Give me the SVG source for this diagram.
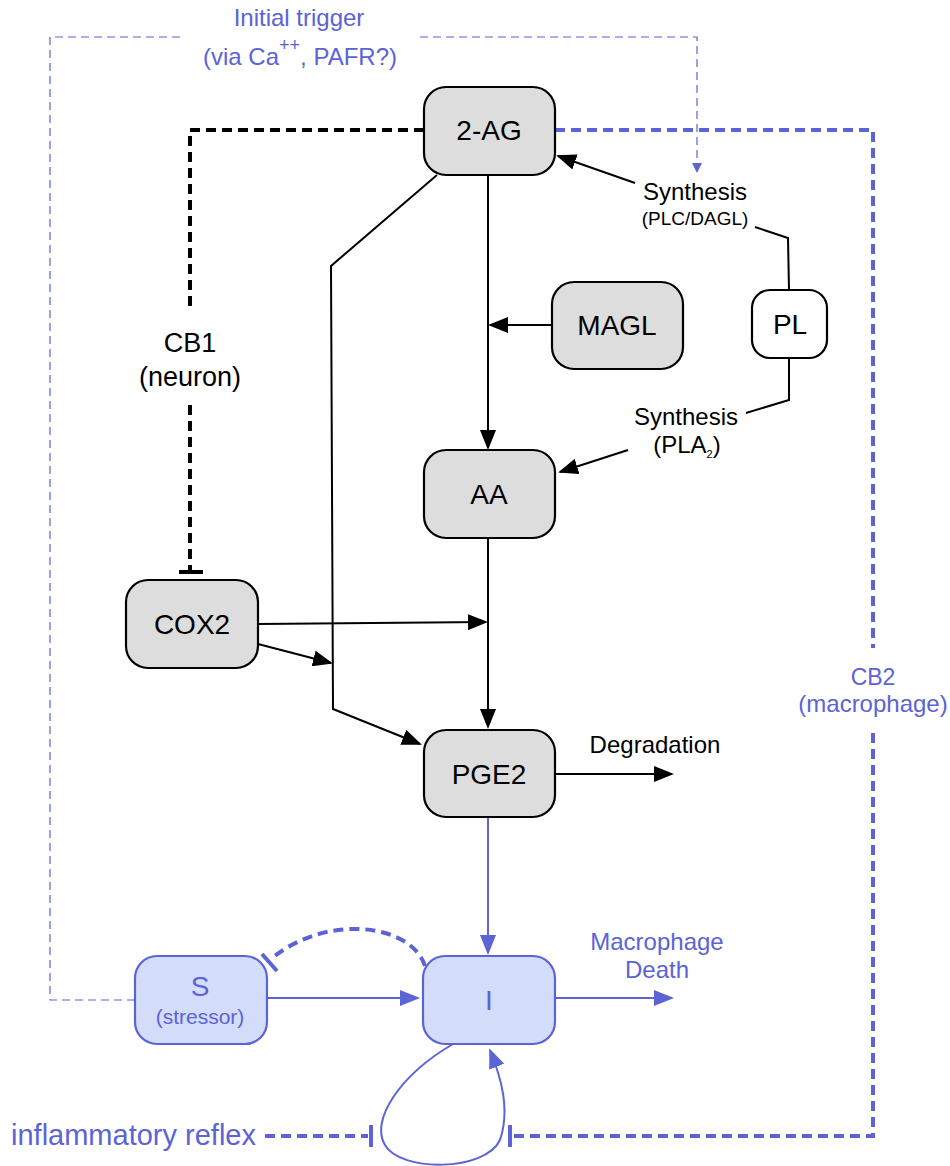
<svg xmlns="http://www.w3.org/2000/svg" width="950" height="1166" viewBox="0 0 950 1166">
<style>
text{font-family:"Liberation Sans",Arial,sans-serif}
.g{fill:#dddddd;stroke:#000;stroke-width:2.2}
.w{fill:#fff;stroke:#000;stroke-width:2.2}
.b{fill:#d3ddf9;stroke:#5b63d6;stroke-width:2.2}
.k{fill:none;stroke:#000;stroke-width:2}
.kd{fill:none;stroke:#000;stroke-width:4;stroke-dasharray:10,6}
.bl{fill:none;stroke:#5b63d6;stroke-width:2}
.bd{fill:none;stroke:#5b63d6;stroke-width:4;stroke-dasharray:10,6}
.bt{fill:none;stroke:#5b63d6;stroke-width:1.2;stroke-dasharray:8,5}
.nt{text-anchor:middle;fill:#000}
.bx{fill:#5b63d6;text-anchor:middle}
</style>
<defs>
<marker id="ak" markerUnits="userSpaceOnUse" markerWidth="20" markerHeight="16" refX="18" refY="8" orient="auto"><path d="M0,0 L20,8 L0,16 Z" fill="#000"/></marker>
<marker id="ab" markerUnits="userSpaceOnUse" markerWidth="20" markerHeight="16" refX="18" refY="8" orient="auto"><path d="M0,0 L20,8 L0,16 Z" fill="#5b63d6"/></marker>
<marker id="abs" markerUnits="userSpaceOnUse" markerWidth="10" markerHeight="10" refX="9" refY="5" orient="auto"><path d="M0,0 L10,5 L0,10 Z" fill="#5b63d6"/></marker>
</defs>
<g id="connectors">
<path class="bt" d="M135,1000 L50,1000 L50,37 L180,37"/>
<path class="bt" d="M420,37 L697,37 L697,172" marker-end="url(#abs)"/>
<path class="kd" d="M424,130 L190,130 L190,312"/>
<path class="kd" d="M190,405 L190,572"/>
<line x1="179" y1="572" x2="203" y2="572" stroke="#000" stroke-width="4"/>
<path class="bd" d="M555,130 L873,130 L873,648"/>
<path class="bd" d="M873,733 L873,1136 L512,1136"/>
<line x1="510" y1="1125" x2="510" y2="1147" stroke="#5b63d6" stroke-width="4"/>
<path class="k" d="M488,175 L488,448" marker-end="url(#ak)"/>
<path class="k" d="M552,325 L490,325" marker-end="url(#ak)"/>
<path class="k" d="M437,175 L331,266 L333,709 L420,744" marker-end="url(#ak)"/>
<path class="k" d="M635,183 L558,156" marker-end="url(#ak)"/>
<path class="k" d="M755,227 L788,238 L789,290"/>
<path class="k" d="M789,358 L789,400 L746,413"/>
<path class="k" d="M628,450 L560,472" marker-end="url(#ak)"/>
<path class="k" d="M488,538 L488,727" marker-end="url(#ak)"/>
<path class="k" d="M258,624 L486,622" marker-end="url(#ak)"/>
<path class="k" d="M258,644 L331,663" marker-end="url(#ak)"/>
<path class="k" d="M555,774 L672,774" marker-end="url(#ak)"/>
<path class="bl" d="M488,817 L488,953" marker-end="url(#ab)"/>
<path class="bl" d="M267,998 L418,998" marker-end="url(#ab)"/>
<path class="bl" d="M555,998 L672,998" marker-end="url(#ab)"/>
<path class="bd" d="M425,966 C412,925 330,912 272,958"/>
<line x1="262" y1="954" x2="277" y2="971" stroke="#5b63d6" stroke-width="4"/>
<path class="bl" d="M453,1044 C400,1075 370,1120 385,1145 C400,1172 485,1172 500,1140 C510,1110 502,1080 490,1050" marker-end="url(#ab)"/>
<path class="bd" d="M265,1136 L368,1136"/>
<line x1="371" y1="1125" x2="371" y2="1147" stroke="#5b63d6" stroke-width="4"/>
</g>
<g id="node-2AG"><rect class="g" x="424" y="87" width="131" height="88" rx="22"/><text class="nt" x="489" y="140" font-size="28">2-AG</text></g>
<g id="node-MAGL"><rect class="g" x="552" y="282" width="131" height="87" rx="22"/><text class="nt" x="617" y="335" font-size="28">MAGL</text></g>
<g id="node-PL"><rect class="w" x="752" y="290" width="75" height="68" rx="18"/><text class="nt" x="790" y="334" font-size="28">PL</text></g>
<g id="node-AA"><rect class="g" x="424" y="450" width="131" height="88" rx="22"/><text class="nt" x="489" y="504" font-size="28">AA</text></g>
<g id="node-COX2"><rect class="g" x="126" y="580" width="132" height="88" rx="22"/><text class="nt" x="192" y="634" font-size="28">COX2</text></g>
<g id="node-PGE2"><rect class="g" x="424" y="730" width="131" height="87" rx="22"/><text class="nt" x="489" y="784" font-size="28">PGE2</text></g>
<g id="node-S"><rect class="b" x="135" y="956" width="132" height="88" rx="22"/><text class="bx" x="200" y="996" font-size="28">S</text><text class="bx" x="200" y="1024" font-size="21">(stressor)</text></g>
<g id="node-I"><rect class="b" x="423" y="956" width="132" height="88" rx="22"/><text class="bx" x="489" y="1010" font-size="28">I</text></g>
<g id="labels">
<text class="bx" x="299" y="26" font-size="24">Initial trigger</text>
<text class="bx" x="300" y="65" font-size="24">(via Ca<tspan dy="-14" font-size="18">++</tspan><tspan dy="14">, PAFR?)</tspan></text>
<text class="nt" x="190" y="352" font-size="27">CB1</text>
<text class="nt" x="190" y="386" font-size="27">(neuron)</text>
<text class="bx" x="873" y="685" font-size="23">CB2</text>
<text class="bx" x="873" y="712" font-size="24">(macrophage)</text>
<text class="nt" x="695" y="200" font-size="24">Synthesis</text>
<text class="nt" x="695" y="225" font-size="19">(PLC/DAGL)</text>
<text class="nt" x="686" y="425" font-size="24">Synthesis</text>
<text class="nt" x="687" y="453" font-size="24">(PLA<tspan dy="5" font-size="11">2</tspan><tspan dy="-5">)</tspan></text>
<text class="nt" x="655" y="753" font-size="24">Degradation</text>
<text class="bx" x="657" y="950" font-size="24">Macrophage</text>
<text class="bx" x="657" y="978" font-size="24">Death</text>
<text x="11" y="1145" font-size="29" fill="#5b63d6">inflammatory reflex</text>
</g>
</svg>
